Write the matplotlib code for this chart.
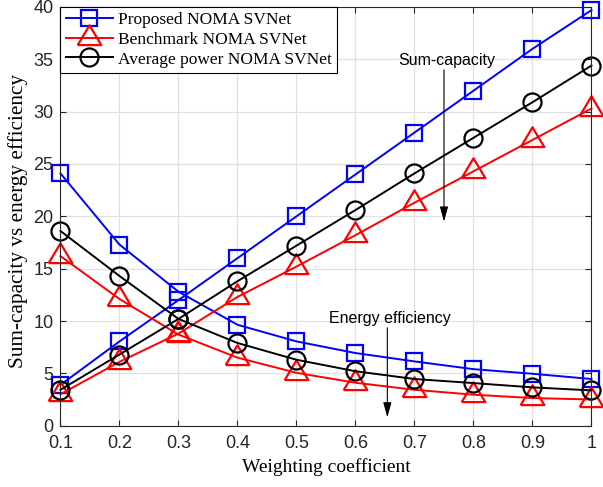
import matplotlib
matplotlib.use("Agg")
import matplotlib.pyplot as plt

w = [0.1, 0.2, 0.3, 0.4, 0.5, 0.6, 0.7, 0.8, 0.9, 1.0]
prop_sc = [3.9, 8.05, 12.0, 16.0, 20.0, 24.0, 28.0, 32.0, 36.0, 39.7]
prop_ee = [24.1, 17.3, 12.8, 9.64, 8.05, 6.94, 6.14, 5.4, 4.96, 4.46]
bench_sc = [3.0, 6.1, 8.8, 12.3, 15.2, 18.2, 21.3, 24.3, 27.3, 30.3]
bench_ee = [16.2, 12.1, 8.7, 6.5, 5.05, 4.1, 3.43, 2.96, 2.64, 2.5]
avg_sc = [3.43, 6.8, 10.2, 13.8, 17.2, 20.6, 24.1, 27.5, 30.9, 34.4]
avg_ee = [18.6, 14.3, 10.2, 7.9, 6.3, 5.2, 4.46, 4.07, 3.66, 3.37]
labels = ["Proposed NOMA SVNet", "Benchmark NOMA SVNet", "Average power NOMA SVNet"]

fig = plt.figure(figsize=(6.03, 4.87), dpi=100)
ax = fig.add_axes([0.1003, 0.1259, 0.8806, 0.8598])

# MATLAB-like wide triangle, centred at its centroid
tri = [(-1.0, -0.56), (1.0, -0.56), (0.0, 1.12), (-1.0, -0.56)]

sty = dict(lw=1.4, mew=1.6, mfc='none')
l1, = ax.plot(w, prop_sc, color='#0000ff', marker='s', ms=11, **sty)
ax.plot(w, prop_ee, color='#0000ff', marker='s', ms=11, **sty)
l2, = ax.plot(w, bench_sc, color='#ff0000', marker=tri, ms=19, **sty)
ax.plot(w, bench_ee, color='#ff0000', marker=tri, ms=19, **sty)
l3, = ax.plot(w, avg_sc, color='black', marker='o', ms=13, **sty)
ax.plot(w, avg_ee, color='black', marker='o', ms=13, **sty)
for ln in ax.lines:
    ln.set_clip_on(False)

ax.set_xlim(0.1, 1.0)
ax.set_ylim(0, 40)
ax.set_xticks(w)
ax.set_xticklabels(["0.1", "0.2", "0.3", "0.4", "0.5", "0.6", "0.7", "0.8", "0.9", "1"])
ax.set_yticks(range(0, 41, 5))
ax.grid(True, color='#e0e0e0', lw=0.9)
ax.set_axisbelow(True)
ax.tick_params(direction='in', labelsize=13, length=4, width=0.8, color='#262626',
               top=True, right=True)
ax.tick_params(axis='x', pad=7)
ax.tick_params(axis='y', pad=5)
for lab in ax.get_xticklabels() + ax.get_yticklabels():
    lab.set_family('Liberation Sans')
    lab.set_color('#262626')
for s in ax.spines.values():
    s.set_color('#262626')
    s.set_linewidth(0.8)

ax.set_xlabel("Weighting coefficient", family='Liberation Serif', fontsize=14, labelpad=4)
ax.set_ylabel("Sum-capacity vs energy efficiency", family='Liberation Serif', fontsize=15.3)
ax.yaxis.set_label_coords(-0.062, 0.49)

leg = ax.legend([l1, l2, l3], labels, loc='upper left', fancybox=False, framealpha=1,
                edgecolor='black', prop={'family': 'Liberation Serif', 'size': 12.5},
                borderaxespad=0.0, handlelength=2.7, labelspacing=0.2, borderpad=0.3,
                handletextpad=0.3)
leg.get_frame().set_linewidth(0.8)

ax.annotate("", xy=(0.75, 19.5), xytext=(0.75, 34.0),
            arrowprops=dict(arrowstyle='-|>,head_length=0.9,head_width=0.25',
                            color='black', lw=0.8, shrinkA=0, shrinkB=0))
ax.text(0.755, 34.9, "Sum-capacity", family='Liberation Sans', fontsize=11.5,
        ha='center', va='center')
ax.annotate("", xy=(0.654, 0.8), xytext=(0.654, 9.35),
            arrowprops=dict(arrowstyle='-|>,head_length=0.9,head_width=0.25',
                            color='black', lw=0.8, shrinkA=0, shrinkB=0))
ax.text(0.658, 10.2, "Energy efficiency", family='Liberation Sans', fontsize=11.5,
        ha='center', va='center')

fig.savefig("out.png", dpi=100)
